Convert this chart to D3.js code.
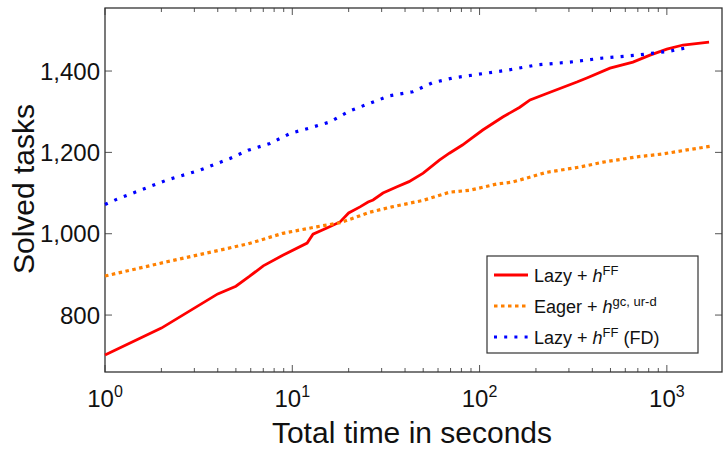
<!DOCTYPE html>
<html lang="en">
<head>
<meta charset="UTF-8">
<title>Solved tasks</title>
<script src="https://cdn.jsdelivr.net/npm/d3@7"></script>
<style>
  body { margin: 0; background: #fff; }
  text { font-family: "Liberation Sans", Arial, sans-serif; fill: #111; }
</style>
</head>
<body>
<script>
// Lazy + hFF
const lazyT = [1, 2, 4, 5, 5.9, 7, 8.9, 12, 12.9, 15.3, 18, 20, 23, 25.4, 27, 30.5, 36, 42, 50, 61, 69, 81, 89, 104, 133, 164, 186, 238, 331, 374, 497, 659, 813, 1000, 1220, 1680];
const lazyV = [702, 768, 852, 871, 895, 921, 947, 977, 999, 1014, 1029, 1051, 1066, 1078, 1083, 1100, 1115, 1128, 1149, 1181, 1198, 1218, 1232, 1255, 1287, 1311, 1329, 1348, 1373, 1383, 1407, 1422, 1439, 1454, 1464, 1471];
// Eager + hgc,ur-d
const eagerT = [1, 2.14, 5.8, 8.9, 13.5, 18, 26, 34, 50, 69, 89, 123, 150, 228, 344, 457, 692, 945, 1280, 1760];
const eagerV = [896, 931, 975, 1001, 1017, 1027, 1053, 1066, 1082, 1102, 1107, 1122, 1127, 1151, 1164, 1176, 1189, 1196, 1206, 1216];
// Lazy + hFF (FD)
const fdT = [1, 1.16, 2.14, 3.2, 4.65, 5.8, 7.6, 9.8, 12.4, 15.9, 20.3, 26, 33, 44, 56, 72, 92, 121, 140, 202, 304, 457, 692, 1040, 1330];
const fdV = [1072, 1085, 1132, 1156, 1185, 1205, 1222, 1247, 1260, 1275, 1302, 1321, 1339, 1349, 1371, 1383, 1390, 1398, 1402, 1415, 1422, 1432, 1439, 1449, 1459];

const yTicks = [800, 1000, 1200, 1400];
const xTicks = [1, 10, 100, 1000];

const W = 723, H = 450;
const m = {left: 105, right: 1, top: 8, bottom: 78};

const svg = d3.select("body").append("svg")
  .attr("width", W).attr("height", H);

const x = d3.scaleLog().domain([1, 1970]).range([m.left, W - m.right]);
const y = d3.scaleLinear().domain([660, 1555]).range([H - m.bottom, m.top]);

const minor = [];
for (let d = 1; d <= 1000; d *= 10)
  for (let k = 2; k <= 9; k++) if (d * k < 1970) minor.push(d * k);

const axisColor = "#555";
// minor + major ticks, inward, bottom and top
const tickG = svg.append("g").attr("stroke", axisColor).attr("stroke-width", 1);
[[H - m.bottom, -1], [m.top, 1]].forEach(([yy, dir]) => {
  tickG.selectAll(null).data(minor).enter().append("line")
    .attr("x1", d => x(d)).attr("x2", d => x(d))
    .attr("y1", yy).attr("y2", yy + dir * 4);
  tickG.selectAll(null).data(xTicks).enter().append("line")
    .attr("x1", d => x(d)).attr("x2", d => x(d))
    .attr("y1", yy).attr("y2", yy + dir * 7);
});
[[m.left, 1], [W - m.right, -1]].forEach(([xx, dir]) => {
  tickG.selectAll(null).data(yTicks).enter().append("line")
    .attr("y1", d => y(d)).attr("y2", d => y(d))
    .attr("x1", xx).attr("x2", xx + dir * 7);
});

// frame
svg.append("rect")
  .attr("x", m.left).attr("y", m.top)
  .attr("width", W - m.right - m.left).attr("height", H - m.bottom - m.top)
  .attr("fill", "none").attr("stroke", "#333").attr("stroke-width", 1.3);

// tick labels
svg.append("g").selectAll("text").data(yTicks).enter().append("text")
  .attr("x", m.left - 5).attr("y", d => y(d)).attr("dy", "0.36em")
  .attr("text-anchor", "end").attr("font-size", 24)
  .text(d3.format(","));

const xl = svg.append("g").selectAll("text").data(xTicks).enter().append("text")
  .attr("x", d => x(d)).attr("y", H - m.bottom + 35)
  .attr("text-anchor", "middle").attr("font-size", 24);
xl.append("tspan").text("10");
xl.append("tspan").attr("dy", -10).attr("font-size", 16).text(d => Math.round(Math.log10(d)));

// axis titles
svg.append("text")
  .attr("x", 412).attr("y", 443)
  .attr("text-anchor", "middle").attr("font-size", 30)
  .text("Total time in seconds");
svg.append("text")
  .attr("transform", `translate(34,189) rotate(-90)`)
  .attr("text-anchor", "middle").attr("font-size", 30)
  .text("Solved tasks");

// lines
const line = d3.line().x(d => x(d[0])).y(d => y(d[1]));
const series = [
  {t: lazyT, v: lazyV, color: "#ff0000", width: 2.8, dash: null},
  {t: eagerT, v: eagerV, color: "#ff8000", width: 3.2, dash: "3.5,3.5"},
  {t: fdT, v: fdV, color: "#0000ff", width: 3.2, dash: "3,7.2"}
];
svg.append("g").selectAll("path").data(series).enter().append("path")
  .attr("d", s => line(d3.zip(s.t, s.v)))
  .attr("fill", "none")
  .attr("stroke", s => s.color)
  .attr("stroke-width", s => s.width)
  .attr("stroke-dasharray", s => s.dash);

// legend
const lg = svg.append("g");
lg.append("rect").attr("x", 487).attr("y", 256).attr("width", 211).attr("height", 97)
  .attr("fill", "#fff").attr("stroke", "#333").attr("stroke-width", 1.2);
const labels = [
  ["Lazy + ", "FF", ""],
  ["Eager + ", "gc, ur-d", ""],
  ["Lazy + ", "FF", " (FD)"]
];
labels.forEach((lab, i) => {
  const yy = 275 + i * 31;
  const s = series[i];
  lg.append("line").attr("x1", 494).attr("x2", 528).attr("y1", yy).attr("y2", yy)
    .attr("stroke", s.color).attr("stroke-width", s.width).attr("stroke-dasharray", s.dash);
  const t = lg.append("text").attr("x", 534).attr("y", yy).attr("dy", "0.38em").attr("font-size", 18);
  t.append("tspan").text(lab[0]);
  t.append("tspan").attr("font-style", "italic").text("h");
  t.append("tspan").attr("dy", -7).attr("font-size", 13).text(lab[1]);
  if (lab[2]) t.append("tspan").attr("dy", 7).text(lab[2]);
});
</script>
</body>
</html>
